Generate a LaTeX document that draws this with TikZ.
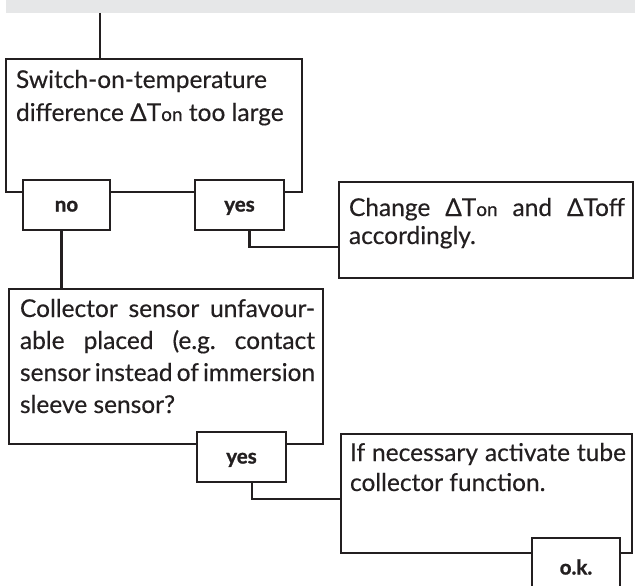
\documentclass[tikz,border=0pt]{standalone}
\usepackage{fontspec}
\setmainfont{Lato}
\newfontfamily\bodyf{Lato}[FakeBold=0.35]
\newfontfamily\labf{Lato}[BoldFeatures={FakeBold=1.2}]
\definecolor{ink}{HTML}{231F20}
\definecolor{band}{HTML}{E6E7E8}
\newcommand\Dsub[1]{ΔT{\fontsize{19}{19}\selectfont #1}}
\begin{document}
\begin{tikzpicture}[x=1pt,y=-1pt,
  box/.style={draw=ink, line width=2.2pt, fill=white, rectangle, inner sep=0pt, outer sep=0pt, anchor=north west},
  lab/.style={box, font={\labf\fontsize{20.5}{20.5}\selectfont\bfseries}, text=ink, text height=13pt, text depth=0pt},
  txt/.style={inner sep=0pt, outer sep=0pt, anchor=base west, text=ink},
  wire/.style={draw=ink, line width=2.2pt}]
\useasboundingbox (0,0) rectangle (635,586);
\node[fill=band, inner sep=0pt, outer sep=0pt, anchor=north west, minimum width=629pt, minimum height=13pt] (band) at (6,0) {};
\node[box, minimum width=296pt, minimum height=133pt] (b1) at (6,59) {};
\node[box, minimum width=294pt, minimum height=96pt] (c) at (339,182) {};
\node[box, minimum width=314pt, minimum height=155pt] (b2) at (9,289) {};
\node[box, minimum width=291pt, minimum height=119pt] (b3) at (341,434) {};
\node[lab, minimum width=87pt, minimum height=50pt] (no1) at (23,180) {no};
\node[lab, minimum width=89pt, minimum height=50pt] (yes1) at (195,180) {yes};
\node[lab, minimum width=89pt, minimum height=50pt] (yes2) at (197,432) {yes};
\node[lab, minimum width=88pt, minimum height=60pt] (ok) at (532,538) {o.k.};
% texts
\node[txt, font={\bodyf\frenchspacing\fontsize{24.5}{33}\selectfont}] (t1) at ([shift={(10pt,-29pt)}]b1.north west)
  {\vtop{\hbox{Switch-on-temperature}\hbox{difference \Dsub{on} too large}}};
\node[txt, font={\bodyf\frenchspacing\fontsize{24.5}{28}\selectfont}] (tc) at ([shift={(10pt,-34pt)}]c.north west)
  {\vtop{\hbox to 276pt{Change \Dsub{on} and ΔToff}\hbox{accordingly.}}};
\node[txt, font={\bodyf\frenchspacing\fontsize{24.5}{32}\selectfont}] (t2) at ([shift={(11pt,-28pt)}]b2.north west)
  {\vtop{\hbox to 295pt{Collector sensor unfavour-}\hbox to 295pt{able placed (e.g. contact}\hbox to 295pt{sensor instead of immersion}\hbox{sleeve sensor?}}};
\node[txt, font={\bodyf\frenchspacing\fontsize{24.5}{30}\selectfont}] (t3) at ([shift={(9pt,-27pt)}]b3.north west)
  {\vtop{\hbox to 276pt{If necessary activate tube}\hbox{collector function.}}};
% connectors
\coordinate (top) at ([xshift=-54pt]b1.north);
\draw[wire] (band.south -| top) -- (top);
\coordinate (n1) at ([xshift=-5pt]no1.south);
\draw[wire] (n1) -- (n1 |- b2.north);
\coordinate (y1) at ([xshift=10pt]yes1.south);
\draw[wire] (y1) |- ([yshift=-17pt]c.west);
\coordinate (y2) at ([xshift=10.5pt]yes2.south);
\draw[wire] (y2) |- ([yshift=-5.5pt]b3.west);
\end{tikzpicture}
\end{document}
